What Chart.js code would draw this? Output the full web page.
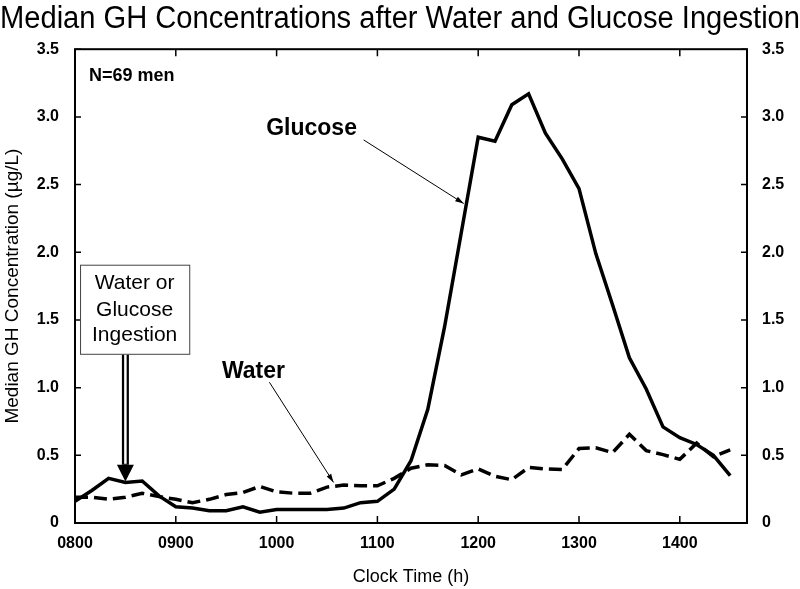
<!DOCTYPE html>
<html>
<head>
<meta charset="utf-8">
<script src="https://cdn.jsdelivr.net/npm/chart.js@4.4.1/dist/chart.umd.min.js"></script>
<style>
  html, body { margin: 0; padding: 0; background: #fff; }
  #wrap { width: 800px; height: 589px; }
</style>
</head>
<body>
<div id="wrap"><canvas id="ghChart"></canvas></div>
<script>
// clock times of the samples (every 10 min)
const sampleTimes = [
  '0800','0810','0820','0830','0840','0850','0900','0910','0920','0930',
  '0940','0950','1000','1010','1020','1030','1040','1050','1100','1110',
  '1120','1130','1140','1150','1200','1210','1220','1230','1240','1250',
  '1300','1310','1320','1330','1340','1350','1400','1410','1420','1430'
];
// median GH (µg/L) after glucose
const glucoseGH = [
  0.16, 0.24, 0.33, 0.30, 0.31, 0.20, 0.12, 0.11, 0.09, 0.09,
  0.12, 0.08, 0.10, 0.10, 0.10, 0.10, 0.11, 0.15, 0.16, 0.25,
  0.46, 0.84, 1.45, 2.15, 2.85, 2.82, 3.09, 3.17, 2.88, 2.69,
  2.47, 1.99, 1.61, 1.22, 0.99, 0.71, 0.63, 0.58, 0.50, 0.35
];
// median GH (µg/L) after water
const waterGH = [
  0.19, 0.19, 0.175, 0.19, 0.22, 0.195, 0.175, 0.15, 0.175, 0.21,
  0.225, 0.27, 0.23, 0.22, 0.22, 0.265, 0.28, 0.275, 0.275, 0.33,
  0.405, 0.43, 0.425, 0.355, 0.40, 0.345, 0.32, 0.41, 0.40, 0.395,
  0.55, 0.555, 0.52, 0.655, 0.535, 0.505, 0.47, 0.59, 0.49, 0.54
];
const xTickLabels = ['0800', '0900', '1000', '1100', '1200', '1300', '1400'];
const yTickValues = [0, 0.5, 1.0, 1.5, 2.0, 2.5, 3.0, 3.5];

function toMinutes(hhmm) {
  return parseInt(hhmm.slice(0, 2), 10) * 60 + parseInt(hhmm.slice(2), 10);
}
function toClock(min) {
  const h = Math.floor(min / 60);
  return (h < 10 ? '0' : '') + h + '00';
}

const fontFam = '"Liberation Sans", Arial, sans-serif';

// frame + inward tick marks
const frameTicks = {
  id: 'frameTicks',
  beforeDatasetsDraw(chart) {
    const { ctx, chartArea: a, scales } = chart;
    ctx.save();
    ctx.strokeStyle = '#000';
    ctx.lineWidth = 2;
    ctx.strokeRect(a.left, a.top, a.right - a.left, a.bottom - a.top);
    ctx.lineWidth = 1.5;
    ctx.beginPath();
    scales.x.ticks.forEach(t => {
      const px = scales.x.getPixelForValue(t.value);
      ctx.moveTo(px, a.bottom); ctx.lineTo(px, a.bottom - 7);
      ctx.moveTo(px, a.top); ctx.lineTo(px, a.top + 7);
    });
    scales.y.ticks.forEach(t => {
      const py = scales.y.getPixelForValue(t.value);
      ctx.moveTo(a.left, py); ctx.lineTo(a.left + 6, py);
      ctx.moveTo(a.right, py); ctx.lineTo(a.right - 6, py);
    });
    ctx.stroke();
    ctx.restore();
  }
};

function thinArrow(ctx, x1, y1, x2, y2) {
  ctx.beginPath();
  ctx.moveTo(x1, y1);
  ctx.lineTo(x2, y2);
  ctx.stroke();
  const ang = Math.atan2(y2 - y1, x2 - x1);
  const len = 9;
  ctx.beginPath();
  ctx.moveTo(x2, y2);
  ctx.lineTo(x2 - len * Math.cos(ang - 0.3), y2 - len * Math.sin(ang - 0.3));
  ctx.lineTo(x2 - len * Math.cos(ang + 0.3), y2 - len * Math.sin(ang + 0.3));
  ctx.closePath();
  ctx.fill();
}

// text labels, arrows and the ingestion box (placed in data units)
const notes = {
  id: 'notes',
  afterDatasetsDraw(chart) {
    const { ctx, scales: { x, y } } = chart;
    const X = v => x.getPixelForValue(v);
    const Y = v => y.getPixelForValue(v);
    ctx.save();
    ctx.fillStyle = '#000';
    ctx.strokeStyle = '#000';
    ctx.textBaseline = 'middle';

    ctx.textAlign = 'left';
    ctx.font = 'bold 18px ' + fontFam;
    ctx.fillText('N=69 men', X(488.3), Y(3.30));

    ctx.textAlign = 'center';
    ctx.font = 'bold 23px ' + fontFam;
    ctx.fillText('Glucose', X(620.8), Y(2.91));
    ctx.fillText('Water', X(586.2), Y(1.12));

    ctx.lineWidth = 1;
    thinArrow(ctx, X(651.8), Y(2.83), X(711.4), Y(2.36));
    thinArrow(ctx, X(595.7), Y(1.04), X(633.9), Y(0.30));

    // box
    ctx.strokeStyle = '#444';
    ctx.lineWidth = 1;
    const bx1 = X(483), bx2 = X(548), by1 = Y(1.908), by2 = Y(1.25);
    ctx.strokeRect(bx1 + 0.5, by1 + 0.5, bx2 - bx1, by2 - by1);
    ctx.font = '21px ' + fontFam;
    ctx.fillText('Water or', X(515.5), Y(1.773));
    ctx.fillText('Glucose', X(515.5), Y(1.575));
    ctx.fillText('Ingestion', X(515.5), Y(1.39));

    // double-line arrow
    const ax = X(510);
    const headTop = Y(0.43), tip = Y(0.306);
    ctx.strokeStyle = '#000';
    ctx.lineWidth = 7;
    ctx.beginPath(); ctx.moveTo(ax, by2 + 1); ctx.lineTo(ax, headTop); ctx.stroke();
    ctx.strokeStyle = '#fff';
    ctx.lineWidth = 2.5;
    ctx.beginPath(); ctx.moveTo(ax, by2 + 1); ctx.lineTo(ax, headTop - 1); ctx.stroke();
    ctx.beginPath();
    ctx.moveTo(ax - 8.5, headTop);
    ctx.lineTo(ax + 8.5, headTop);
    ctx.lineTo(ax, tip);
    ctx.closePath();
    ctx.fill();
    ctx.restore();
  }
};

const ctx = document.getElementById('ghChart').getContext('2d');
new Chart(ctx, {
  type: 'line',
  data: {
    datasets: [
      {
        label: 'Glucose',
        data: sampleTimes.map((t, i) => ({ x: toMinutes(t), y: glucoseGH[i] })),
        borderColor: '#000',
        borderWidth: 3.5,
        pointRadius: 0,
        tension: 0,
        yAxisID: 'y'
      },
      {
        label: 'Water',
        data: sampleTimes.map((t, i) => ({ x: toMinutes(t), y: waterGH[i] })),
        borderColor: '#000',
        borderWidth: 3.5,
        borderDash: [13, 6],
        pointRadius: 0,
        tension: 0,
        yAxisID: 'y'
      }
    ]
  },
  options: {
    responsive: true,
    maintainAspectRatio: false,
    animation: false,
    layout: { padding: { left: 0, right: 0, top: 0, bottom: 0 } },
    plugins: {
      legend: { display: false },
      tooltip: { enabled: false },
      title: {
        display: true,
        text: 'Median GH Concentrations after Water and Glucose Ingestion',
        color: '#000',
        font: { family: '"Liberation Sans Narrow", "Arial Narrow", ' + fontFam, size: 31, weight: 'normal' },
        padding: { top: 1, bottom: 11 }
      }
    },
    scales: {
      x: {
        type: 'linear',
        min: 480,
        max: 880,
        afterBuildTicks: s => { s.ticks = xTickLabels.map(l => ({ value: toMinutes(l) })); },
        afterFit: s => { s.height = 66; },
        grid: { display: false },
        border: { display: false },
        ticks: {
          color: '#000',
          font: { family: fontFam, size: 16, weight: 'bold' },
          padding: 3,
          maxRotation: 0,
          callback: v => toClock(v)
        },
        title: {
          display: true,
          text: 'Clock Time (h)',
          color: '#000',
          font: { family: fontFam, size: 18 },
          padding: { top: 0, bottom: 1 }
        }
      },
      y: {
        position: 'left',
        min: 0,
        max: 3.5,
        afterBuildTicks: s => { s.ticks = yTickValues.map(v => ({ value: v })); },
        afterFit: s => { s.width = 75; },
        grid: { display: false },
        border: { display: false },
        ticks: {
          color: '#000',
          font: { family: fontFam, size: 16, weight: 'bold' },
          padding: 8,
          callback: v => v === 0 ? '0' : v.toFixed(1)
        },
        title: {
          display: true,
          text: 'Median GH Concentration (µg/L)',
          color: '#000',
          font: { family: fontFam, size: 19 },
          padding: { top: 1, bottom: 0 }
        }
      },
      y2: {
        position: 'right',
        min: 0,
        max: 3.5,
        afterBuildTicks: s => { s.ticks = yTickValues.map(v => ({ value: v })); },
        afterFit: s => { s.width = 53; },
        grid: { display: false },
        border: { display: false },
        ticks: {
          color: '#000',
          font: { family: fontFam, size: 16, weight: 'bold' },
          padding: 7,
          callback: v => v === 0 ? '0' : v.toFixed(1)
        }
      }
    }
  },
  plugins: [frameTicks, notes]
});
</script>
</body>
</html>
